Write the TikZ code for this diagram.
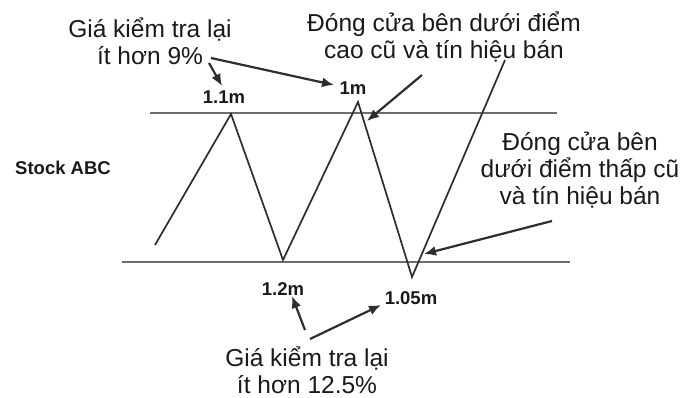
\documentclass[tikz,border=0pt]{standalone}
\usepackage{fontspec}
\setmainfont{Liberation Sans}
\usetikzlibrary{arrows.meta}
\definecolor{txt}{HTML}{1A1A1A}
\definecolor{lvl}{HTML}{6E6E6E}
\definecolor{zz}{HTML}{2E2E2E}
\tikzset{
  note/.style={align=center, text=txt, inner sep=0pt, font=\fontsize{24.5}{27}\selectfont},
  price/.style={text=txt, inner sep=0pt, font=\fontsize{18.5}{20}\selectfont\bfseries},
  level/.style={draw=lvl, line width=1.6pt},
  zig/.style={draw=zz, line width=1.7pt, line join=miter},
  pointer/.style={draw=zz, line width=2.2pt, -{Latex[length=12pt,width=10pt]}}
}
\begin{document}
\begin{tikzpicture}[x=1pt,y=-1pt]
\useasboundingbox (0,0) rectangle (684,398);
\fill[white] (0,0) rectangle (684,398);
% level lines
\coordinate (t1) at (150,113);
\coordinate (t2) at (557,113);
\coordinate (b1) at (122,262);
\coordinate (b2) at (570,262);
\draw[level] (t1) -- (t2);
\draw[level] (b1) -- (b2);
% zigzag
\coordinate (z0) at (155,245);
\coordinate (p1) at (231,114);
\coordinate (v1) at (283,260);
\coordinate (p2) at (358,102);
\coordinate (v2) at (412,277);
\coordinate (z5) at (505,60);
\draw[zig] (z0) -- (p1) -- (v1) -- (p2) -- (v2) -- (z5);
% labels
\node[price] (l11) at (224,97) {1.1m};
\node[price] (l1) at (353,88) {1m};
\node[price] (l12) at (283,289) {1.2m};
\node[price] (l105) at (411,298) {1.05m};
\node[price] (stock) at (63,168) {Stock ABC};
% notes
\node[note] (n1) at (150,41) {Giá kiểm tra lại\\ít hơn 9\%};
\node[note] (n2) at (444,37) {Đóng cửa bên dưới điểm\\cao cũ và tín hiệu bán};
\node[note] (n3) at (580,170) {Đóng cửa bên\\dưới điểm thấp cũ\\và tín hiệu bán};
\node[note] (n4) at (307,370) {Giá kiểm tra lại\\ít hơn 12.5\%};
% pointers
\coordinate (a1s) at (209,63);
\coordinate (a1e) at (222,86);
\coordinate (a2s) at (211,58);
\coordinate (a2e) at (334,85);
\coordinate (a3s) at (422,75);
\coordinate (a3e) at (367,121);
\coordinate (a4s) at (552,221);
\coordinate (a4e) at (424,254);
\coordinate (a5s) at (305,330);
\coordinate (a5e) at (292,296);
\coordinate (a6s) at (310,339);
\coordinate (a6e) at (381,305);
\draw[pointer] (a1s) -- (a1e);
\draw[pointer] (a2s) -- (a2e);
\draw[pointer] (a3s) -- (a3e);
\draw[pointer] (a4s) -- (a4e);
\draw[pointer] (a5s) -- (a5e);
\draw[pointer] (a6s) -- (a6e);
\end{tikzpicture}
\end{document}
